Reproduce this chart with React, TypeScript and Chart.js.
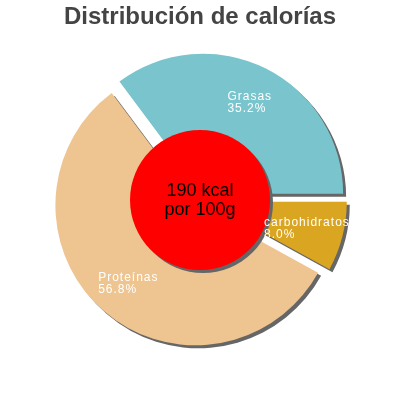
import { useEffect, useRef } from "react";
import { Chart, registerables } from "chart.js";

Chart.register(...registerables);

const categories = ["carbohidratos", "Proteínas", "Grasas"];
const percentages = [8.0, 56.8, 35.2];
const sliceColors = ["#daa520", "#eec591", "#7ac5cd"];
const titleText = "Distribución de calorías";
const centerLines = ["190 kcal", "por 100g"];

const FONT = "'Liberation Sans', Arial, Helvetica, sans-serif";
const EXPLODE = 7;

function setShadow(ctx: CanvasRenderingContext2D, dpr: number) {
  ctx.shadowColor = "#666666";
  ctx.shadowOffsetX = 3 * dpr;
  ctx.shadowOffsetY = 3 * dpr;
  ctx.shadowBlur = 0;
}

const decorPlugin = {
  id: "decor",
  beforeDatasetDraw(chart: any, args: any) {
    const ctx = chart.ctx;
    const dpr = chart.currentDevicePixelRatio || 1;
    const meta = args.meta;
    ctx.save();
    setShadow(ctx, dpr);
    meta.data.forEach((arc: any) => {
      const mid = (arc.startAngle + arc.endAngle) / 2;
      ctx.save();
      ctx.translate(Math.cos(mid) * EXPLODE, Math.sin(mid) * EXPLODE);
      arc.draw(ctx, chart.chartArea);
      ctx.restore();
    });
    ctx.restore();
    return false;
  },
  afterDatasetsDraw(chart: any) {
    const ctx = chart.ctx;
    const dpr = chart.currentDevicePixelRatio || 1;
    const meta = chart.getDatasetMeta(0);
    const arcs = meta.data;
    if (!arcs.length) return;
    const cx = arcs[0].x;
    const cy = arcs[0].y;
    const R = arcs[0].outerRadius;

    // center circle
    ctx.save();
    setShadow(ctx, dpr);
    ctx.beginPath();
    ctx.arc(cx, cy, R * 0.5, 0, Math.PI * 2);
    ctx.fillStyle = "#ff0000";
    ctx.fill();
    ctx.restore();

    // center text
    ctx.save();
    ctx.fillStyle = "#000000";
    ctx.font = `18px ${FONT}`;
    ctx.textAlign = "center";
    ctx.textBaseline = "alphabetic";
    ctx.fillText(centerLines[0], cx, cy - 4);
    ctx.fillText(centerLines[1], cx, cy + 14.5);
    ctx.restore();

    // slice labels
    ctx.save();
    ctx.fillStyle = "#ffffff";
    ctx.font = `12px ${FONT}`;
    (ctx as any).letterSpacing = "1px";
    ctx.textAlign = "left";
    ctx.textBaseline = "alphabetic";
    arcs.forEach((arc: any, i: number) => {
      const mid = (arc.startAngle + arc.endAngle) / 2;
      const r = R * 0.735 + EXPLODE;
      const lx = cx + Math.cos(mid) * r;
      const ly = cy + Math.sin(mid) * r;
      const l1 = categories[i];
      const l2 = percentages[i].toFixed(1) + "%";
      const w = Math.max(ctx.measureText(l1).width, ctx.measureText(l2).width) - 1;
      const left = lx - w / 2;
      ctx.fillText(l1, left, ly - 1.7);
      ctx.fillText(l2, left, ly + 10.3);
    });
    ctx.restore();
  },
};

export default function App() {
  const ref = useRef<HTMLCanvasElement | null>(null);

  useEffect(() => {
    if (!ref.current) return;
    const titleTop = 3;
    const titleSize = 24;
    const titleBlock = titleTop + titleSize * 1.2;
    const chart = new Chart(ref.current, {
      type: "pie",
      data: {
        labels: categories,
        datasets: [
          {
            data: percentages,
            backgroundColor: sliceColors,
            borderWidth: 0,
            offset: 0,
          } as any,
        ],
      },
      options: {
        animation: false,
        responsive: true,
        maintainAspectRatio: false,
        rotation: 90,
        radius: 140,
        layout: { padding: { top: 0, bottom: titleBlock, left: 0, right: 0 } },
        plugins: {
          legend: { display: false },
          tooltip: { enabled: false },
          title: {
            display: true,
            text: titleText,
            color: "#444444",
            font: { family: FONT, size: titleSize, weight: "bold" },
            padding: { top: titleTop, bottom: 0 },
          },
        },
      } as any,
      plugins: [decorPlugin],
    });
    return () => chart.destroy();
  }, []);

  return (
    <div style={{ position: "fixed", left: 0, top: 0, width: 400, height: 400, background: "#fff" }}>
      <canvas ref={ref} />
    </div>
  );
}
